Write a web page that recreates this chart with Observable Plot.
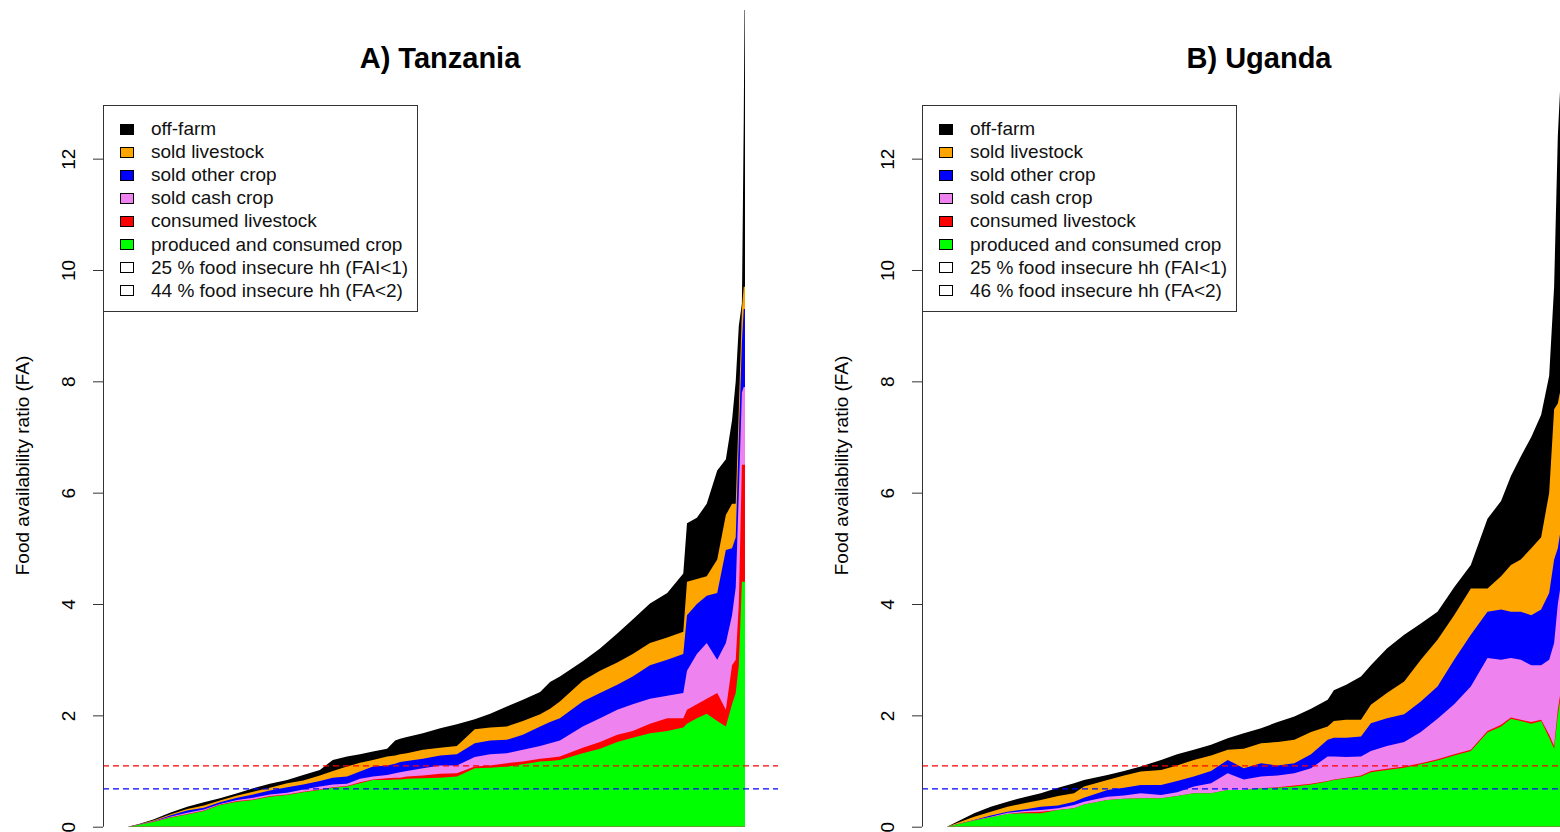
<!DOCTYPE html>
<html><head><meta charset="utf-8">
<script src="https://cdn.jsdelivr.net/npm/d3@7"></script>
<script src="https://cdn.jsdelivr.net/npm/@observablehq/plot@0.6"></script>
<style>
html,body{margin:0;padding:0;background:#fff;width:1560px;height:832px;overflow:hidden;font-family:"Liberation Sans",Arial,sans-serif;}
.panel{position:absolute;top:0;width:780px;height:832px;}
.panel svg{position:absolute;left:0;top:0;}
.title{position:absolute;top:38px;left:140px;width:600px;text-align:center;font-weight:bold;font-size:29px;line-height:40px;color:#000;}
.legend{position:absolute;left:103px;top:105px;width:315px;height:207px;box-sizing:border-box;border:1px solid #333;background:#fff;}
.row{position:absolute;left:0;height:23px;display:flex;align-items:center;font-size:19px;color:#111;white-space:nowrap;}
.sw{width:14px;height:11px;border:1px solid #000;margin-left:16px;margin-right:17px;box-sizing:border-box;}
</style>
</head><body>
<script>
// ---- series / legend ----
const seriesNames = ["off-farm","sold livestock","sold other crop","sold cash crop","consumed livestock","produced and consumed crop"];
const seriesColors = ["#000000","#FFA500","#0000FF","#EE82EE","#FF0000","#00FF00"];
const yTicks = [0,2,4,6,8,10,12];
const yLabel = "Food availability ratio (FA)";
const thresholdRed = 1.1;
const thresholdBlue = 0.69;

const tzTitle = "A) Tanzania";
const tzInsecure = ["25 % food insecure hh (FAI<1)","44 % food insecure hh (FA<2)"];
const ugTitle = "B) Uganda";
const ugInsecure = ["25 % food insecure hh (FAI<1)","46 % food insecure hh (FA<2)"];

// ---- Tanzania: household rank (%) and cumulative band tops (FA) ----
const tzRank = [0,1.9,4.1,6.8,9.6,12.3,14.9,17.7,20.3,23.0,25.8,28.4,31.1,33.2,35.5,37.6,39.7,42.0,43.3,44.1,45.2,47.8,50.6,53.3,56.2,58.7,61.4,64.0,66.8,68.4,70.0,73.7,76.5,79.3,81.8,84.6,87.4,90.0,90.6,92.2,93.8,95.5,96.9,97.9,98.5,99.0,99.5,99.8,100];
const tzCropTop = [0,.035,.085,.16,.22,.28,.39,.45,.48,.54,.57,.62,.66,.70,.72,.78,.84,.84,.85,.85,.86,.87,.88,.90,1.05,1.06,1.08,1.12,1.17,1.18,1.20,1.32,1.40,1.52,1.60,1.68,1.72,1.78,1.85,1.95,2.03,1.90,1.80,2.20,2.40,2.90,4.40,4.40,4.40];
const tzConsLivTop = [0,.037,.088,.17,.23,.29,.40,.46,.49,.55,.58,.63,.67,.71,.73,.80,.85,.87,.88,.88,.90,.92,.95,.96,1.08,1.10,1.14,1.17,1.22,1.24,1.26,1.42,1.52,1.65,1.72,1.85,1.95,1.95,2.10,2.20,2.30,2.40,2.10,2.90,3.00,4.00,6.50,6.50,6.50];
const tzCashTop = [0,.040,.095,.18,.25,.31,.41,.48,.52,.58,.61,.67,.72,.76,.77,.86,.90,.93,.96,.98,1.00,1.05,1.10,1.10,1.25,1.30,1.32,1.38,1.45,1.50,1.55,1.80,1.95,2.10,2.20,2.30,2.35,2.40,2.80,3.10,3.30,3.00,3.30,3.80,4.30,6.00,7.80,7.90,7.90];
const tzOtherTop = [0,.043,.10,.20,.29,.34,.44,.52,.58,.65,.71,.76,.82,.88,.90,.99,1.08,1.10,1.13,1.16,1.18,1.22,1.28,1.30,1.50,1.55,1.56,1.65,1.80,1.88,1.95,2.25,2.40,2.55,2.70,2.90,3.00,3.10,3.80,4.00,4.15,4.20,4.97,5.00,5.20,7.00,8.70,9.30,9.30];
const tzSoldLivTop = [0,.047,.11,.22,.32,.38,.47,.56,.63,.70,.78,.83,.92,1.00,1.08,1.15,1.20,1.26,1.28,1.30,1.32,1.38,1.42,1.45,1.75,1.78,1.80,1.90,2.02,2.12,2.25,2.62,2.80,2.95,3.10,3.30,3.40,3.50,4.40,4.45,4.50,4.80,5.60,5.80,5.80,7.50,9.30,9.70,9.70];
const tzOffFarmTop = [0,.055,.13,.25,.36,.44,.51,.60,.69,.77,.84,.93,1.02,1.20,1.26,1.30,1.35,1.40,1.55,1.58,1.61,1.68,1.77,1.84,1.93,2.03,2.16,2.28,2.42,2.60,2.70,2.97,3.20,3.47,3.72,4.01,4.20,4.55,5.45,5.55,5.80,6.40,6.60,7.30,8.00,9.00,9.40,12.70,16.0];

// ---- Uganda ----
const ugRank = [0,4.4,7.1,9.8,12.5,15.2,18.0,20.6,22.2,26.0,28.7,31.4,34.7,37.3,40.0,42.8,45.5,48.1,50.9,53.6,56.3,59.0,61.7,62.7,64.7,67.1,68.7,71.3,74.1,76.8,79.5,82.2,84.9,87.6,89.8,91.4,93.0,94.7,96.3,97.6,98.4,99.0,99.7,100];
const ugCropTop = [0,.11,.17,.23,.24,.24,.30,.33,.40,.48,.50,.51,.51,.55,.60,.60,.66,.66,.69,.70,.72,.76,.81,.84,.87,.90,.98,1.02,1.06,1.12,1.19,1.28,1.36,1.69,1.80,1.94,1.90,1.85,1.90,1.60,1.40,2.00,2.50,2.50];
const ugConsLivTop = [0,.11,.17,.23,.26,.27,.30,.33,.40,.48,.50,.51,.51,.55,.60,.60,.66,.66,.69,.71,.74,.77,.82,.85,.88,.92,1.00,1.04,1.08,1.14,1.21,1.30,1.38,1.72,1.83,1.96,1.92,1.88,1.92,1.65,1.45,2.10,2.60,2.60];
const ugCashTop = [0,.115,.18,.25,.28,.30,.33,.39,.45,.54,.56,.60,.57,.62,.72,.78,.96,.85,.90,.92,.96,1.05,1.26,1.26,1.25,1.26,1.36,1.45,1.52,1.70,1.94,2.20,2.52,3.03,3.00,3.03,3.00,2.90,2.90,3.00,3.30,4.00,4.50,4.50];
const ugOtherTop = [0,.12,.20,.27,.31,.36,.38,.45,.52,.66,.70,.75,.75,.82,.90,1.00,1.20,1.05,1.14,1.10,1.14,1.30,1.56,1.60,1.60,1.62,1.86,1.95,2.02,2.25,2.52,3.00,3.45,3.86,3.90,3.86,3.86,3.80,3.90,4.20,4.80,5.00,5.50,5.50];
const ugSoldLivTop = [0,.18,.27,.36,.42,.48,.55,.60,.72,.84,.92,.99,1.02,1.10,1.20,1.28,1.38,1.40,1.50,1.52,1.56,1.70,1.80,1.90,1.92,1.92,2.19,2.40,2.61,3.00,3.36,3.80,4.28,4.28,4.50,4.70,4.80,5.00,5.20,6.00,7.50,7.60,8.00,8.00];
const ugOffFarmTop = [0,.24,.36,.45,.53,.60,.70,.78,.84,.93,1.00,1.08,1.20,1.30,1.38,1.47,1.59,1.68,1.77,1.88,1.98,2.12,2.28,2.45,2.55,2.70,2.90,3.20,3.45,3.65,3.86,4.30,4.70,5.53,5.85,6.30,6.65,7.00,7.40,8.10,9.70,12.40,14.00,16.00];

const xDomain = [-4.05, 105.35];
const yDomain = [0, 14.67];

function makePanel(left, title, insecure, rank, tops) {
  const div = document.createElement("div");
  div.className = "panel";
  div.style.left = left + "px";
  document.body.appendChild(div);

  const areaMarks = seriesNames.map((s, k) => {
    const rows = rank.map((p, i) => ({p, top: tops[k][i], series: s}));
    return Plot.areaY(rows, {x: "p", y1: () => 0, y2: "top", fill: "series", clip: true});
  });

  const svg = Plot.plot({
    width: 780, height: 832,
    marginLeft: 103, marginRight: 2, marginTop: 10, marginBottom: 5.3,
    x: {domain: xDomain, axis: null},
    y: {domain: yDomain, axis: null},
    color: {domain: seriesNames, range: seriesColors},
    style: {fontFamily: "'Liberation Sans', Arial, sans-serif", fontSize: "19px", background: "transparent", color: "black"},
    marks: [
      ...areaMarks,
      Plot.ruleY([thresholdRed], {stroke: "#FF0000", strokeDasharray: "6,4", strokeWidth: 1.2}),
      Plot.ruleY([thresholdBlue], {stroke: "#0000FF", strokeDasharray: "6,4", strokeWidth: 1.2}),
      Plot.ruleX([xDomain[0]], {x: d => d, y1: () => yTicks[0], y2: () => yTicks[yTicks.length - 1], stroke: "#333"}),
      Plot.axisY(yTicks, {tickSize: 10, tickFormat: () => "", label: null, stroke: "#333"}),
      Plot.text(yTicks, {x: () => xDomain[0], y: d => d, text: d => String(d), rotate: -90, dx: -34.5, fontSize: 19, fill: "black"}),
      Plot.text([yLabel], {frameAnchor: "left", textAnchor: "middle", text: d => d, rotate: -90, dx: -81, dy: 46.6, fontSize: 19, fill: "black"})
    ]
  });
  div.appendChild(svg);

  const t = document.createElement("div");
  t.className = "title";
  t.textContent = title;
  div.appendChild(t);

  const lg = document.createElement("div");
  lg.className = "legend";
  const entries = seriesNames.map((s, k) => ({label: s, color: seriesColors[k]}))
    .concat(insecure.map(l => ({label: l, color: "#FFFFFF"})));
  entries.forEach((e, i) => {
    const r = document.createElement("div");
    r.className = "row";
    r.style.top = (23 + i * 23.1 - 11.5) + "px";
    const sw = document.createElement("div");
    sw.className = "sw";
    sw.style.background = e.color;
    const tx = document.createElement("span");
    tx.textContent = e.label;
    r.appendChild(sw); r.appendChild(tx);
    lg.appendChild(r);
  });
  div.appendChild(lg);
}

makePanel(0, tzTitle, tzInsecure, tzRank,
  [tzOffFarmTop, tzSoldLivTop, tzOtherTop, tzCashTop, tzConsLivTop, tzCropTop]);
makePanel(819, ugTitle, ugInsecure, ugRank,
  [ugOffFarmTop, ugSoldLivTop, ugOtherTop, ugCashTop, ugConsLivTop, ugCropTop]);
</script>
</body></html>
